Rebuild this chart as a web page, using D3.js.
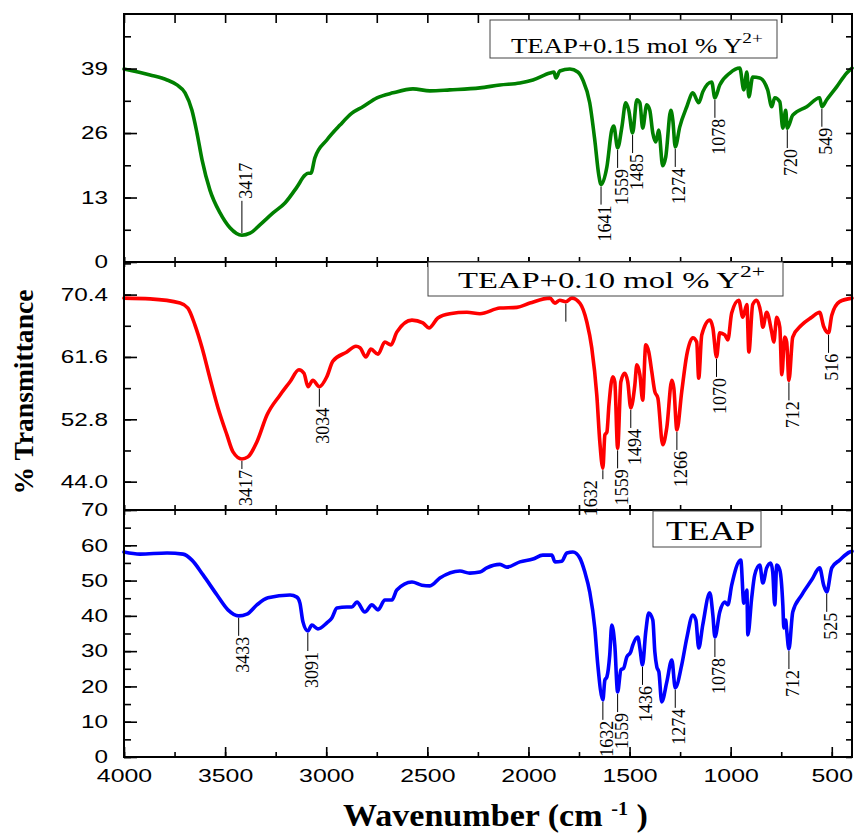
<!DOCTYPE html>
<html>
<head>
<meta charset="utf-8">
<script src="https://cdn.jsdelivr.net/npm/d3@7"></script>
<style>
  html, body { margin: 0; padding: 0; background: #fff; }
  svg { display: block; }
</style>
</head>
<body>
<div id="chart"></div>
<script>
// FTIR spectra, values: [wavenumber, %T]
const spec015 = [[4000,38.9],[3871,37.7],[3787,36.7],[3738,35.7],[3698,34.1],[3664,30.6],[3639,26],[3614,20.6],[3575,14.5],[3525,9.9],[3476,6.9],[3417,5.4],[3377,5.8],[3328,7.5],[3263,9.9],[3204,11.9],[3145,15.1],[3105,17.5],[3090,17.9],[3076,17.9],[3056,21],[2997,24.6],[2932,27.6],[2873,30],[2819,31.3],[2749,33.1],[2670,34.1],[2571,34.9],[2487,34.5],[2389,34.7],[2240,35.1],[2141,35.7],[2042,36.1],[1978,36.7],[1894,38.1],[1874,38.3],[1864,37.1],[1845,38.5],[1795,38.9],[1756,38.3],[1731,36.7],[1697,32.1],[1672,24.6],[1652,17.5],[1641,15.6],[1612,19.2],[1588,26.6],[1578,27.4],[1559,23],[1538,27.2],[1519,32.1],[1504,30.6],[1485,26],[1464,32.7],[1449,32.1],[1435,27],[1415,31.7],[1400,30.6],[1385,26],[1370,24.2],[1356,26.6],[1336,19.4],[1321,21.2],[1296,30.6],[1286,28.6],[1274,23.2],[1252,27.2],[1217,31.3],[1187,34.1],[1158,32.1],[1138,34.3],[1094,36.3],[1078,33.1],[1054,35.7],[1004,38.1],[955,39.1],[935,34.7],[920,38.3],[910,33.3],[891,37.3],[856,37.1],[817,34.7],[797,31.3],[782,33.1],[757,32.3],[742,27],[728,30.6],[720,27],[693,29.6],[624,31.3],[560,33.1],[549,31.3],[525,32.7],[476,35.3],[426,38.1],[400,39.1]];

const spec010 = [[4000,69.9],[3871,69.8],[3723,69.2],[3684,68.5],[3649,66.1],[3614,62.9],[3575,58.6],[3535,54.4],[3491,50.6],[3461,48.2],[3417,47.2],[3387,47.5],[3343,49.6],[3293,53.4],[3229,56.2],[3179,58.1],[3135,59.8],[3110,59.3],[3090,57.4],[3066,58.3],[3034,57.4],[2997,58.8],[2967,61],[2898,62.3],[2853,63.1],[2833,62.9],[2804,61.6],[2779,62.7],[2744,62],[2710,63.7],[2680,63.3],[2651,65.1],[2576,66.8],[2522,66.4],[2492,65.7],[2448,67.1],[2389,67.7],[2304,67.9],[2240,67.7],[2141,68.5],[2057,68.6],[1993,69.2],[1894,69.9],[1869,69.2],[1845,69.6],[1815,69.4],[1785,69.9],[1746,69.2],[1711,66.5],[1687,62.9],[1662,56.2],[1647,49.6],[1632,45.9],[1622,50.6],[1612,51],[1602,54.8],[1583,58.8],[1573,58.1],[1559,48.7],[1543,58.1],[1524,59.3],[1509,58.1],[1494,54.4],[1474,57.6],[1464,60.5],[1449,59.1],[1435,55.5],[1420,63.3],[1405,62.3],[1390,59.5],[1375,56.7],[1360,55.8],[1336,49.2],[1316,51.6],[1291,58.3],[1281,57.2],[1266,51.3],[1242,56.7],[1217,61.9],[1187,64.3],[1168,63.7],[1158,58.6],[1143,64.7],[1103,66.8],[1088,65.7],[1070,61.6],[1054,65],[1029,64.7],[1014,64],[995,67.8],[960,69.6],[940,67.2],[920,69],[910,62.3],[891,69],[871,69.6],[851,67.8],[841,65.8],[822,67.9],[797,65.1],[787,63.7],[772,67.2],[757,65.8],[747,59.1],[733,64.4],[723,63.7],[712,58.3],[693,64.4],[649,66.1],[599,67.2],[560,67.9],[540,65.9],[516,65],[500,67.5],[461,69.4],[400,69.9]];

const specTeap = [[4000,58.1],[3921,57.5],[3787,57.8],[3708,57.5],[3664,55.8],[3609,51.6],[3540,45.9],[3486,41.7],[3433,40],[3392,40.5],[3343,43.1],[3288,45.1],[3179,45.9],[3145,45.3],[3130,43.6],[3115,38.3],[3091,35.7],[3071,37.4],[3041,36.3],[2997,38],[2972,39.4],[2947,42.2],[2898,42.5],[2873,42.5],[2848,43.9],[2809,41.1],[2774,43.1],[2744,41.7],[2710,44.5],[2675,44.5],[2651,47.3],[2576,49.6],[2527,48.7],[2487,48.5],[2438,50.7],[2339,52.7],[2290,52.1],[2240,52.4],[2206,53.6],[2141,54.6],[2107,53.8],[2042,55.3],[1978,56.1],[1929,57.2],[1884,57.2],[1869,55.3],[1835,55.5],[1810,57.8],[1780,58.1],[1746,56.4],[1721,52.4],[1697,46.8],[1672,36.6],[1657,26.1],[1632,16.2],[1622,21.8],[1612,22.7],[1598,28.9],[1588,37.4],[1573,31.7],[1559,18.4],[1543,24.7],[1529,25.2],[1514,28.3],[1494,29.8],[1484,31.7],[1459,34],[1449,30.9],[1436,26.1],[1420,35.4],[1405,40.8],[1385,38.8],[1375,29.8],[1365,25.5],[1355,24.1],[1341,15.6],[1316,21.2],[1291,27.5],[1274,19.6],[1242,26.1],[1217,33.7],[1187,40.2],[1172,38.8],[1158,30.9],[1138,37.4],[1103,46.5],[1088,40.2],[1078,34],[1054,41.1],[1029,43.9],[1014,43.1],[995,48.7],[950,55.8],[935,43.6],[920,47.3],[915,34.6],[896,45.1],[881,51.6],[856,54.4],[841,49.3],[822,53.6],[802,55],[792,52.4],[782,43.1],[772,54.4],[757,53],[742,43.1],[737,36.6],[728,38.8],[723,36],[712,30.6],[693,41.1],[649,45.9],[599,50.2],[560,53.6],[540,48.7],[525,46.8],[500,53.6],[461,55.8],[411,58.1],[400,58.3]];

// labelled bands
const peaks015 = [3417, 1641, 1559, 1485, 1274, 1078, 720, 549];
const peaks010 = [3417, 3034, 1632, 1559, 1494, 1266, 1070, 712, 516];
const marks010 = [1815];   // marker line without number
const peaksTeap = [3433, 3091, 1632, 1559, 1436, 1274, 1078, 712, 525];

// axis ticks
const xTicks = [4000, 3500, 3000, 2500, 2000, 1500, 1000, 500];
const yTicks015 = [0, 13, 26, 39];
const yTicks010 = [44.0, 52.8, 61.6, 70.4];
const yTicksTeap = [0, 10, 20, 30, 40, 50, 60, 70];

const legend015 = 'TEAP+0.15 mol % Y';
const legend010 = 'TEAP+0.10 mol % Y';
const legendTeap = 'TEAP';

// ---------------------------------------------------------------
const W = 855, H = 836;
const left = 124, right = 852;

const svg = d3.select('#chart').append('svg')
  .attr('width', W).attr('height', H);

const x = d3.scaleLinear().domain([4000, 400]).range([left, right]);
const xMinor = d3.range(4000, 399, -250);

const panels = [
  { data: spec015, color: '#008000', domain: [0, 50], top: 14, bottom: 262,
    ticks: yTicks015, step: 6.5, fmt: d3.format('d'), peaks: peaks015, marks: [],
    legend: { text: legend015, sup: '2+', box: [490, 20, 287, 38], tx: 511, ty: 53, size: 21, width: 252 },
    above: [3417] },
  { data: spec010, color: '#ff0000', domain: [40, 75], top: 262, bottom: 510,
    ticks: yTicks010, step: 4.4, fmt: d3.format('.1f'), peaks: peaks010, marks: marks010,
    legend: { text: legend010, sup: '2+', box: [428, 262, 355, 34], tx: 458, ty: 288, size: 24, width: 307 },
    above: [] },
  { data: specTeap, color: '#0000ff', domain: [0, 70], top: 510, bottom: 757,
    ticks: yTicksTeap, step: 5, fmt: d3.format('d'), peaks: peaksTeap, marks: [],
    legend: { text: legendTeap, sup: null, box: [653, 511, 108, 36], tx: 666, ty: 540, size: 27, width: 89 },
    above: [] }
];

// small nudges of a few markers, as in the original
const labelShift = { '1-1632': -12 };
const shortLine = { '1-3417': 8, '1-1632': 9 };

function valueAt(data, wn) {
  for (let i = 0; i < data.length - 1; i++) {
    const a = data[i], b = data[i + 1];
    if (wn <= a[0] && wn >= b[0]) {
      const f = (a[0] - wn) / (a[0] - b[0]);
      return a[1] + f * (b[1] - a[1]);
    }
  }
  return data[data.length - 1][1];
}

// stretch a text horizontally around its own x position
function stretch(sel, s) {
  sel.each(function() {
    const t = d3.select(this);
    const x0 = +t.attr('x') || 0;
    t.attr('x', 0).attr('transform', `translate(${x0},0) scale(${s},1)`);
  });
}

const tickFont = '"Liberation Sans", Arial, sans-serif';
const serif = '"Liberation Serif", "Times New Roman", serif';

panels.forEach((p, idx) => {
  const y = d3.scaleLinear().domain(p.domain).range([p.bottom, p.top]);
  const g = svg.append('g');
  const isLast = idx === panels.length - 1;

  // spectrum
  const line = d3.line()
    .x(d => x(d[0]))
    .y(d => y(d[1]))
    .curve(d3.curveMonotoneX);

  g.append('path')
    .datum(p.data)
    .attr('d', line)
    .attr('fill', 'none')
    .attr('stroke', p.color)
    .attr('stroke-width', 3.6)
    .attr('stroke-linejoin', 'round')
    .attr('stroke-linecap', 'round');

  // y axis: minor + major (labelled)
  const yMinor = d3.range(p.ticks[0] - p.step, p.domain[1] + 1e-6, p.step)
    .filter(v => v >= p.domain[0] - 1e-6 && v <= p.domain[1] + 1e-6);

  g.append('g')
    .attr('transform', `translate(${left},0)`)
    .call(d3.axisLeft(y).tickValues(yMinor).tickSizeInner(-7).tickSizeOuter(0).tickFormat(''))
    .call(a => a.select('.domain').remove());

  const yAx = g.append('g')
    .attr('transform', `translate(${left},0)`)
    .call(d3.axisLeft(y).tickValues(p.ticks).tickFormat(p.fmt)
      .tickSizeInner(-13).tickSizeOuter(0).tickPadding(16))
    .call(a => a.select('.domain').remove());
  yAx.selectAll('text')
    .attr('font-family', tickFont).attr('font-size', 18).attr('fill', '#000')
    .call(stretch, 1.35);

  // right side ticks
  g.append('g')
    .attr('transform', `translate(${right},0)`)
    .call(d3.axisRight(y).tickValues(yMinor).tickSizeInner(-6).tickSizeOuter(0).tickFormat(''))
    .call(a => a.select('.domain').remove());

  // top and bottom x ticks
  const topLen = idx === 0 ? 9 : 5;
  g.append('g')
    .attr('transform', `translate(0,${p.top})`)
    .call(d3.axisTop(x).tickValues(xMinor).tickSizeInner(-topLen).tickSizeOuter(0).tickFormat(''))
    .call(a => a.select('.domain').remove());

  const botLenMajor = isLast ? 10 : 5;
  g.append('g')
    .attr('transform', `translate(0,${p.bottom})`)
    .call(d3.axisBottom(x).tickValues(xMinor).tickSizeInner(-5).tickSizeOuter(0).tickFormat(''))
    .call(a => a.select('.domain').remove());

  const xAx = g.append('g')
    .attr('transform', `translate(0,${p.bottom})`)
    .call(d3.axisBottom(x).tickValues(xTicks).tickSizeInner(-botLenMajor).tickSizeOuter(0)
      .tickPadding(12).tickFormat(isLast ? d3.format('d') : ''))
    .call(a => a.select('.domain').remove());
  xAx.selectAll('text')
    .attr('font-family', tickFont).attr('font-size', 18).attr('fill', '#000')
    .call(stretch, 1.38);

  g.selectAll('.tick line').attr('stroke', '#000').attr('stroke-width', 1.6);

  // frame
  g.append('rect')
    .attr('x', left).attr('y', p.top)
    .attr('width', right - left).attr('height', p.bottom - p.top)
    .attr('fill', 'none').attr('stroke', '#000').attr('stroke-width', 2);

  // band markers
  const ann = g.append('g');
  p.peaks.concat(p.marks).forEach(wn => {
    const key = idx + '-' + wn;
    const lineLen = shortLine[key] || 18;
    const px = x(wn);
    const py = y(valueAt(p.data, wn));
    const up = p.above.includes(wn);
    const y1 = up ? py - 2 : py + 2;
    const y2 = up ? py - 2 - lineLen * 1.8 : py + 2 + lineLen;
    ann.append('line')
      .attr('x1', px).attr('x2', px).attr('y1', y1).attr('y2', y2)
      .attr('stroke', '#000').attr('stroke-width', 1);
    if (p.marks.includes(wn)) return;
    const shift = labelShift[key] !== undefined ? labelShift[key] : 4;
    ann.append('text')
      .attr('transform', `translate(${px + shift},${up ? y2 - 2 : y2 + 1}) rotate(-90)`)
      .attr('text-anchor', up ? 'start' : 'end')
      .attr('dy', '0.33em')
      .attr('font-family', serif)
      .attr('font-size', 18)
      .attr('fill', '#000')
      .text(wn);
  });

  // legend box
  const L = p.legend;
  g.append('rect')
    .attr('x', L.box[0]).attr('y', L.box[1]).attr('width', L.box[2]).attr('height', L.box[3])
    .attr('fill', '#fff').attr('stroke', '#444').attr('stroke-width', 1);
  const lt = g.append('text')
    .attr('font-family', serif).attr('font-size', L.size).attr('fill', '#000')
    .attr('x', 0).attr('y', 0);
  lt.append('tspan').text(L.text);
  if (L.sup) {
    lt.append('tspan')
      .attr('font-size', L.size * 0.72)
      .attr('dy', -L.size * 0.46)
      .text(L.sup);
  }
  const w0 = lt.node().getBBox().width;
  lt.attr('transform', `translate(${L.tx},${L.ty}) scale(${L.width / w0},1)`);
});

// axis titles
const yt = svg.append('text')
  .attr('font-family', serif).attr('font-weight', 'bold').attr('font-size', 27)
  .attr('text-anchor', 'middle')
  .text('% Transmittance');
const ytw = yt.node().getBBox().width;
yt.attr('transform', `translate(33,392) rotate(-90) scale(${205 / ytw},1)`);

const xt = svg.append('text')
  .attr('font-family', serif).attr('font-weight', 'bold').attr('font-size', 32)
  .attr('fill', '#000');
xt.append('tspan').text('Wavenumber (cm ');
xt.append('tspan').attr('font-size', 19).attr('dy', -11).text('-1');
xt.append('tspan').attr('dy', 11).text(' )');
const xtw = xt.node().getBBox().width;
xt.attr('transform', `translate(343,826) scale(${305 / xtw},1)`);
</script>
</body>
</html>
